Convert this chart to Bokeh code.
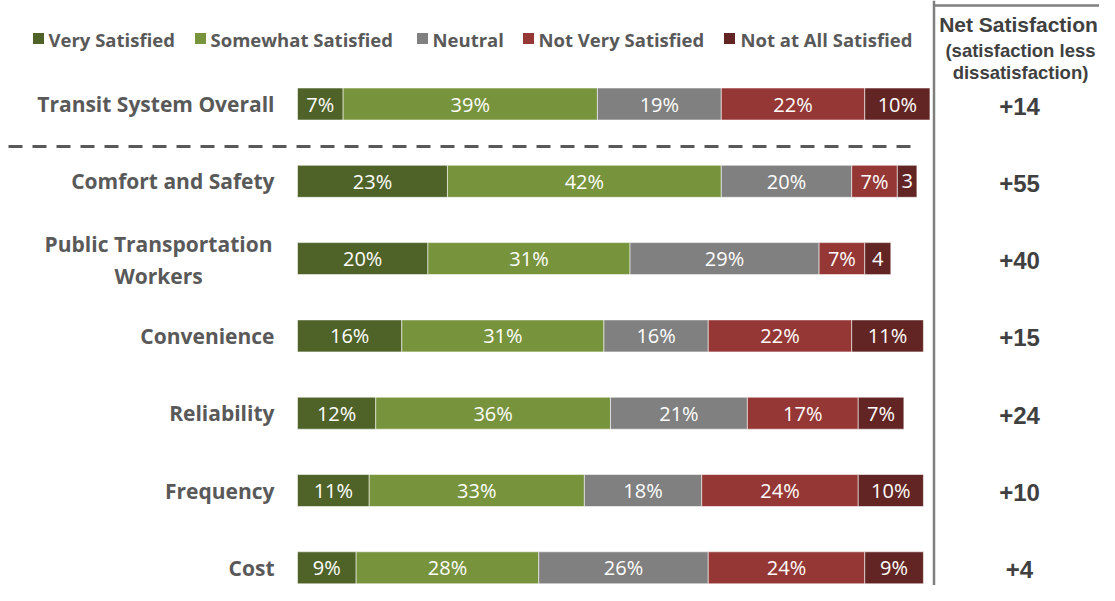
import textwrap
from bokeh.plotting import figure
from bokeh.models import Range1d, Span
from bokeh.core.properties import value
from bokeh.embed import file_html
from bokeh.resources import INLINE

# ---------------- data ----------------
categories = ["Transit System Overall", "Comfort and Safety", "Public Transportation Workers",
              "Convenience", "Reliability", "Frequency", "Cost"]
series = ["Very Satisfied", "Somewhat Satisfied", "Neutral", "Not Very Satisfied", "Not at All Satisfied"]
very_satisfied = [7, 23, 20, 16, 12, 11, 9]
somewhat_satisfied = [39, 42, 31, 31, 36, 33, 28]
neutral = [19, 20, 29, 16, 21, 18, 26]
not_very_satisfied = [22, 7, 7, 22, 17, 24, 24]
not_at_all_satisfied = [10, 3, 4, 11, 7, 10, 9]
net_satisfaction = ["+14", "+55", "+40", "+15", "+24", "+10", "+4"]
net_title = "Net Satisfaction"
net_subtitle = ["(satisfaction less", "dissatisfaction)"]

colors = ["#4F6228", "#77933C", "#808080", "#953735", "#632523"]

# ---------------- layout ----------------
W, H = 1099, 585
PX_PER_PCT = 6.52
X0 = 297.0                 # frame px where 0% sits
ROW0, ROW_STEP = 103.5, 77.3
x_start = -X0 / PX_PER_PCT
x_end = (W - X0) / PX_PER_PCT
y_top = -ROW0 / ROW_STEP
y_bottom = (H - ROW0) / ROW_STEP


def sx(px):  # frame px -> data x
    return x_start + px / PX_PER_PCT


def sy(py):  # frame px -> data y
    return y_top + py / ROW_STEP


p = figure(width=W, height=H, output_backend="svg", toolbar_location=None,
           x_range=Range1d(x_start, x_end), y_range=Range1d(y_bottom, y_top),
           min_border=0, min_border_left=0, min_border_right=0,
           min_border_top=0, min_border_bottom=0)
p.axis.visible = False
p.grid.visible = False
p.outline_line_color = None
p.background_fill_color = "white"
p.border_fill_color = "white"

rows = list(range(len(categories)))
all_series = [very_satisfied, somewhat_satisfied, neutral, not_very_satisfied, not_at_all_satisfied]

LABEL_FONT = value("Open Sans")
BOLD_FONT = value("Open Sans")
ARIAL = value("Liberation Sans")

left = [0] * len(categories)
for vals, col in zip(all_series, colors):
    right = [l + v for l, v in zip(left, vals)]
    p.hbar(y=rows, left=left, right=right, height=32 / ROW_STEP,
           fill_color=col, line_color="white", line_alpha=0.55, line_width=1)
    mids = [(l + r) / 2 for l, r in zip(left, right)]
    labels = [f"{v}%" if v >= 5 else str(v) for v in vals]
    p.text(x=mids, y=rows, text=labels, text_align="center", text_baseline="middle",
           text_color="white", text_font=LABEL_FONT, text_font_size="20px")
    left = right

# category labels
for i, name in enumerate(categories):
    if len(name) > 24:
        lines = textwrap.wrap(name, 22)
        n = len(lines)
        for k, ln in enumerate(lines):
            p.text(x=[sx(158)], y=[i], text=[ln], text_align="center", text_baseline="middle",
                   y_offset=(k - (n - 1) / 2) * 32 + 1,
                   text_color="#595959", text_font=BOLD_FONT, text_font_style="bold",
                   text_font_size="21px")
    else:
        p.text(x=[sx(274)], y=[i], text=[name], text_align="right", text_baseline="middle",
               text_color="#595959", text_font=BOLD_FONT, text_font_style="bold",
               text_font_size="21px")

# legend
legend_sq_x = [38, 200, 422, 528, 729]
legend_tx_x = [48, 210, 432, 538, 740]
p.scatter(x=[sx(v) for v in legend_sq_x], y=[sy(38)] * 5, marker="square", size=11,
          fill_color=colors, line_color=None)
p.text(x=[sx(v) for v in legend_tx_x], y=[sy(39)] * 5, text=series, text_align="left",
       text_baseline="middle", text_color="#595959", text_font=BOLD_FONT,
       text_font_style="bold", text_font_size="18.5px")

# dashed separator
p.segment(x0=[sx(8)], x1=[sx(917)], y0=[sy(146)], y1=[sy(146)], line_color="#595959",
          line_width=3, line_dash="14 10")

# right panel box
p.add_layout(Span(location=sx(933.5), dimension="height", line_color="#7f7f7f", line_width=2.5))
p.segment(x0=[sx(932.5)], x1=[x_end], y0=[sy(5)], y1=[sy(5)], line_color="#7f7f7f", line_width=2.5)

p.text(x=[sx(1018)], y=[sy(24)], text=[net_title], text_align="center", text_baseline="middle",
       text_color="#404040", text_font=ARIAL, text_font_style="bold", text_font_size="21px")
p.text(x=[sx(1020)] * 2, y=[sy(50), sy(72)], text=net_subtitle, text_align="center",
       text_baseline="middle", text_color="#404040", text_font=ARIAL, text_font_style="bold",
       text_font_size="18.5px")
p.text(x=[sx(1019)] * len(rows), y=rows, text=net_satisfaction, text_align="center",
       text_baseline="middle", y_offset=2, text_color="#404040", text_font=ARIAL,
       text_font_style="bold", text_font_size="24px")

open("out.html", "w").write(file_html(p, INLINE))
